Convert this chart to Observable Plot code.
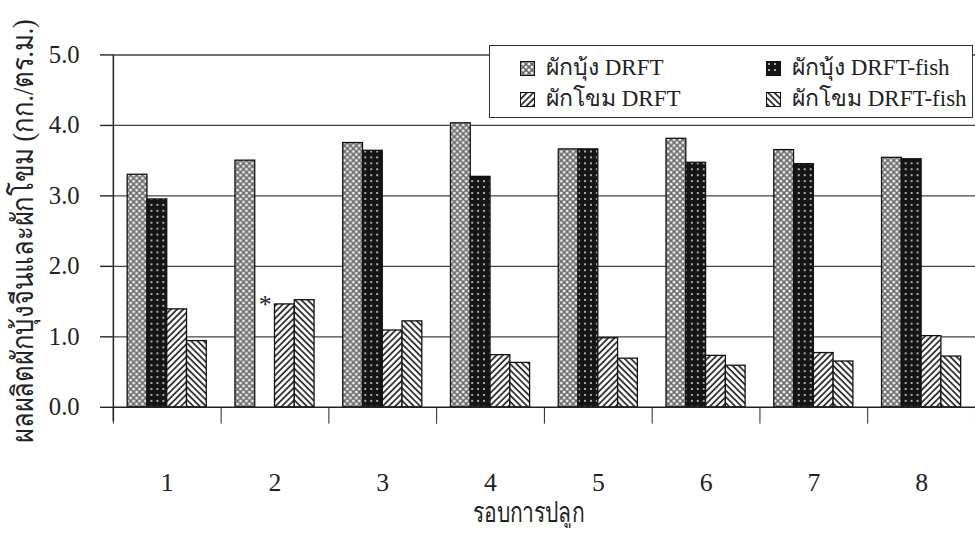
<!DOCTYPE html>
<html><head><meta charset="utf-8">
<script src="https://cdn.jsdelivr.net/npm/d3@7"></script>
<script src="https://cdn.jsdelivr.net/npm/@observablehq/plot@0.6"></script>
<style>
body{margin:0;background:#fff;}
#wrap{position:relative;width:975px;height:533px;overflow:hidden;background:#fff;}
#legend{position:absolute;left:489px;top:45px;width:484px;height:73px;border:1.5px solid #333;background:#fff;box-sizing:border-box;font-family:'Liberation Serif',serif;font-size:23px;color:#222;}
.item{position:absolute;display:flex;align-items:center;white-space:nowrap;line-height:28px;}
.item svg{margin-right:11px;}
</style></head><body><div id="wrap"></div>
<script>
const rounds = [1, 2, 3, 4, 5, 6, 7, 8];
const seriesNames = ["ผักบุ้ง DRFT", "ผักบุ้ง DRFT-fish", "ผักโขม DRFT", "ผักโขม DRFT-fish"];
const bungDRFT = [3.30, 3.50, 3.75, 4.03, 3.66, 3.81, 3.65, 3.54];
const bungDRFTfish = [2.95, null, 3.64, 3.27, 3.66, 3.47, 3.45, 3.52];
const khomDRFT = [1.39, 1.46, 1.09, 0.74, 0.98, 0.73, 0.77, 1.01];
const khomDRFTfish = [0.94, 1.52, 1.22, 0.63, 0.69, 0.59, 0.65, 0.72];
const yTicks = [0, 1, 2, 3, 4, 5];
const roundEdges = [0.5, 1.5, 2.5, 3.5, 4.5, 5.5, 6.5, 7.5, 8.5];
const notes = [{round: 2, k: 1, value: 1.45, text: "*"}];
const yTitle = "ผลผลิตผักบุ้งจีนและผักโขม (กก./ตร.ม.)";
const xTitle = "รอบการปลูก";

const fills = ["url(#pA)", "url(#pB)", "url(#pC)", "url(#pD)"];
const valuesBySeries = [bungDRFT, bungDRFTfish, khomDRFT, khomDRFTfish];
const slot = 0.1835;
const rows = rounds.flatMap((r, i) => seriesNames.map((s, k) => ({round: r, k, series: s, value: valuesBySeries[k][i]})))
  .filter(d => d.value != null);
const left = d => d.round - 2 * slot + d.k * slot;

const chart = Plot.plot({
  width: 985, height: 533,
  marginTop: 55, marginBottom: 122, marginLeft: 114, marginRight: 0,
  x: {domain: [0.5, 8.5]},
  y: {domain: [0, 5]},
  color: {domain: seriesNames, range: fills},
  style: {fontFamily: "'Liberation Serif', serif", background: "#fff", color: "#222"},
  marks: [
    Plot.gridY(yTicks.slice(1), {stroke: "#444", strokeOpacity: 1, strokeWidth: 1.4}),
    Plot.rectY(rows, {x1: left, x2: d => left(d) + slot, y1: 0, y2: "value", fill: "series", stroke: "#111", strokeWidth: 1.3}),
    Plot.ruleY([0], {stroke: "#222", strokeWidth: 1.5}),
    Plot.ruleX([0.5], {y1: -0.2, y2: 5, stroke: "#222", strokeWidth: 1.5}),
    Plot.axisY(yTicks, {tickSize: 13, tickFormat: () => "", label: null, stroke: "#222", strokeWidth: 1.4}),
    Plot.text(yTicks, {x: 0.5, y: d => d, text: d => d.toFixed(1), textAnchor: "end", dx: -34, fontSize: 25, fill: "#222"}),
    Plot.axisX(roundEdges, {tickSize: 17, tickFormat: () => "", label: null, stroke: "#222"}),
    Plot.axisX(rounds, {tickSize: 0, tickPadding: 66, fontSize: 26, label: null}),
    Plot.text(notes, {x: d => left(d) + slot / 2, y: "value", text: "text", fontSize: 26, fill: "#222"}),
    Plot.text([yTitle], {frameAnchor: "left", textAnchor: "middle", rotate: -90, dx: -91, fontSize: 30, fill: "#222"}),
    Plot.text([xTitle], {frameAnchor: "bottom", textAnchor: "middle", dx: -16, dy: 116, fontSize: 29, fill: "#222"})
  ]
});

const defs = `<defs>
<pattern id="pA" width="6" height="6" patternUnits="userSpaceOnUse">
  <rect width="6" height="6" fill="#666"/>
  <circle cx="0" cy="0" r="1.6" fill="#eee"/><circle cx="6" cy="0" r="1.6" fill="#eee"/>
  <circle cx="0" cy="6" r="1.6" fill="#eee"/><circle cx="6" cy="6" r="1.6" fill="#eee"/>
  <circle cx="3" cy="3" r="1.6" fill="#eee"/>
</pattern>
<pattern id="pB" width="6" height="6" patternUnits="userSpaceOnUse">
  <rect width="6" height="6" fill="#151515"/>
  <circle cx="3" cy="3" r="1" fill="#ddd"/>
</pattern>
<pattern id="pC" width="4.5" height="4.5" patternUnits="userSpaceOnUse" patternTransform="rotate(45)">
  <rect width="4.5" height="4.5" fill="#fff"/>
  <line x1="1" y1="0" x2="1" y2="4.5" stroke="#222" stroke-width="1.7"/>
</pattern>
<pattern id="pD" width="4.5" height="4.5" patternUnits="userSpaceOnUse" patternTransform="rotate(-45)">
  <rect width="4.5" height="4.5" fill="#fff"/>
  <line x1="1" y1="0" x2="1" y2="4.5" stroke="#222" stroke-width="1.7"/>
</pattern>
</defs>`;
chart.insertAdjacentHTML("afterbegin", defs);

const wrap = document.getElementById("wrap");
wrap.appendChild(chart);

for (const t of chart.querySelectorAll("text")) {
  if (t.textContent === yTitle) {
    const len = t.getComputedTextLength();
    const s = len > 0 ? 425 / len : 1;
    const tr = t.getAttribute("transform") || "";
    t.setAttribute("transform", tr + ` scale(${s},1)`);
  } else if (t.textContent === xTitle) {
    t.setAttribute("textLength", 112);
    t.setAttribute("lengthAdjust", "spacingAndGlyphs");
  }
}

const legend = document.createElement("div");
legend.id = "legend";
const pos = [[30, 8], [276, 8], [30, 39], [276, 39]];
seriesNames.forEach((s, i) => {
  const it = document.createElement("div");
  it.className = "item";
  it.style.left = pos[i][0] + "px";
  it.style.top = pos[i][1] + "px";
  it.innerHTML = `<svg width="15" height="15"><rect x="0.5" y="0.5" width="14" height="14" fill="${fills[i]}" stroke="#111"/></svg><span>${s}</span>`;
  legend.appendChild(it);
});
wrap.appendChild(legend);
</script></body></html>
